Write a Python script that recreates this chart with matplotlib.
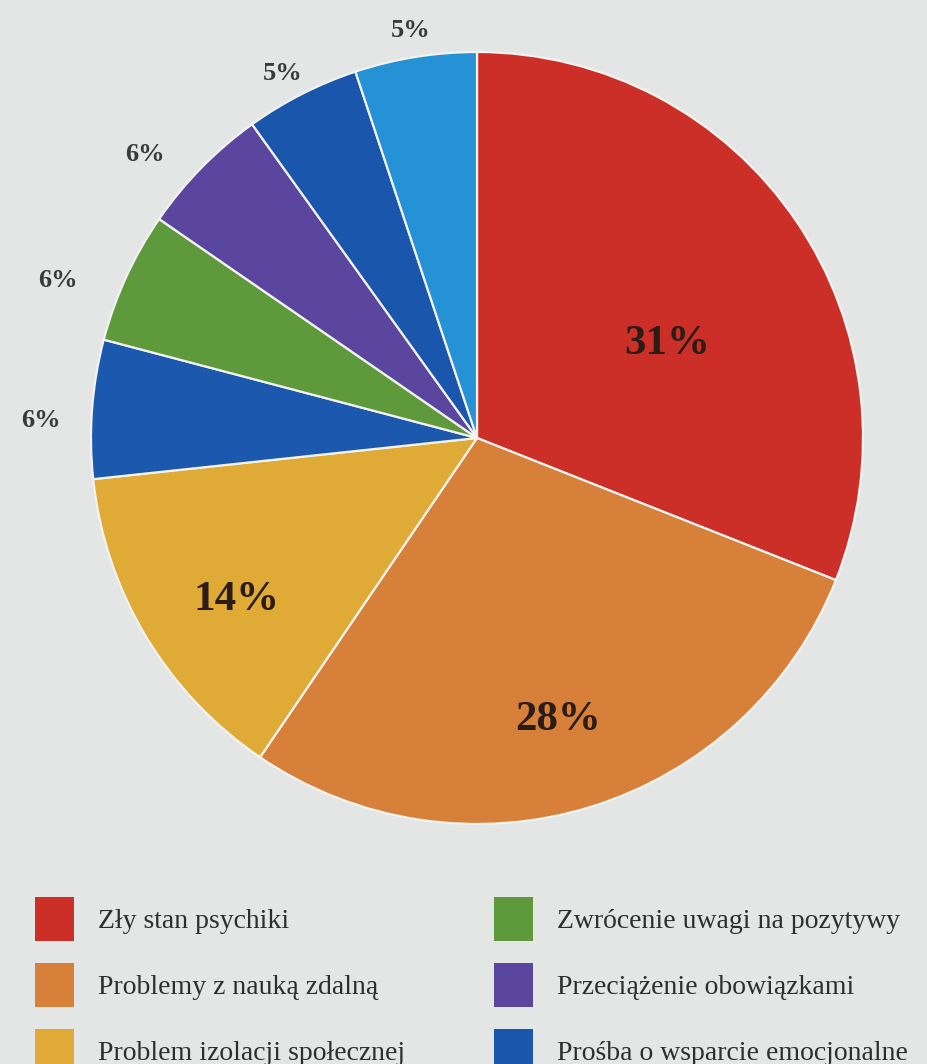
import numpy as np
import matplotlib
matplotlib.use("Agg")
import matplotlib.pyplot as plt

shares = [31.0, 28.5, 13.8, 5.8, 5.5, 5.5, 4.8, 5.1]
pct_labels = ["31%", "28%", "14%", "6%", "6%", "6%", "5%", "5%"]
colors = ["#cc2f28", "#d7803a", "#dfab36", "#1b58ae", "#5e9a3b",
          "#5a469e", "#1a57ac", "#2592d6"]

# legend entries visible in the picture (the 4th row is cut off)
legend_idx = [0, 1, 2, 4, 5, 6]
legend_names = ["Zły stan psychiki", "Problemy z nauką zdalną",
                "Problem izolacji społecznej", "Zwrócenie uwagi na pozytywy",
                "Przeciążenie obowiązkami", "Prośba o wsparcie emocjonalne"]

W, H = 928, 1064
cx, cy, r = 477, 438, 386

fig = plt.figure(figsize=(W / 100, H / 100), dpi=100, facecolor="#e4e6e6")
ax = fig.add_axes([(cx - r) / W, 1 - (cy + r) / H, 2 * r / W, 2 * r / H])
ax.set_facecolor("none")

wedges, _ = ax.pie(shares, colors=colors, startangle=90, counterclock=False,
                   radius=1, wedgeprops=dict(edgecolor="#f2f2ee", linewidth=1.6))
ax.set_xlim(-1, 1)
ax.set_ylim(-1, 1)
ax.set_aspect("equal")
ax.axis("off")

# label placement: radius (fraction of pie radius), angle nudge, font size
label_r = [0.55, 0.76, 0.75, 1.13, 1.16, 1.13, 1.07, 1.07]
label_da = [-8, -1, 3, 2, 4, 4, 1, 0]
label_size = [31, 31, 31, 19, 19, 19, 19, 19]
for w, txt, lr, da, fs in zip(wedges, pct_labels, label_r, label_da, label_size):
    ang = np.deg2rad((w.theta1 + w.theta2) / 2 + da)
    ax.text(lr * np.cos(ang), lr * np.sin(ang), txt, ha="center", va="center",
            fontsize=fs, fontweight="bold", family="Liberation Serif",
            color="#2b1d16" if lr < 1 else "#3a3a3a")

leg = fig.legend([wedges[i] for i in legend_idx], legend_names, ncol=2,
                 loc="upper left", bbox_to_anchor=(35 / W, 1 - 897 / H),
                 frameon=False, borderpad=0, borderaxespad=0,
                 prop=dict(family="Liberation Serif", size=20),
                 handlelength=1.4, handleheight=2.05, handletextpad=0.86,
                 labelspacing=0.8, columnspacing=3.2, labelcolor="#2e2e2e")
for h in leg.legend_handles:
    h.set_edgecolor("none")

fig.savefig("out.png", dpi=100, facecolor=fig.get_facecolor())
